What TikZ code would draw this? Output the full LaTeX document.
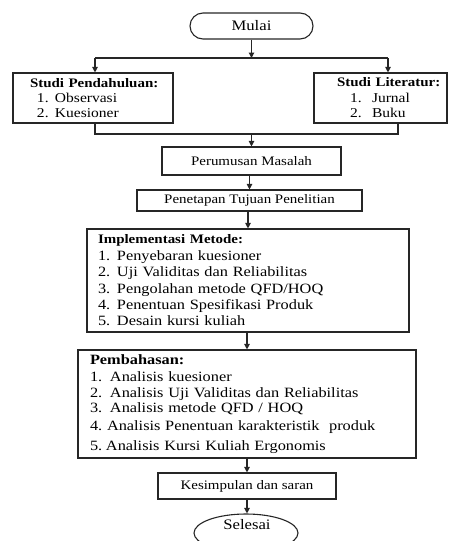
\documentclass[tikz,border=0pt]{standalone}
\usepackage{fontspec}
\setmainfont{Liberation Serif}[FakeStretch=1.15]
\usetikzlibrary{arrows.meta,shapes.geometric}
\begin{document}
\begin{tikzpicture}[x=1pt,y=-1pt,
  box/.style={draw=black!85, line width=1.1pt, rectangle, inner sep=0pt, align=center},
  ln/.style={draw=black!85, line width=1.1pt},
  arr/.style={draw=black!85, line width=1.1pt, -{Triangle[width=5.5pt,length=5.5pt]}},
  ttl/.style={font=\fontsize{13}{15}\selectfont}]
\useasboundingbox (0,0) rectangle (448,541);

\node[box, rounded corners=13pt, minimum width=123pt, minimum height=26pt,
      font=\fontsize{14.5}{16}\selectfont] (mulai) at (251.5,26) {Mulai};

\node[box, minimum height=50pt, text width=160pt, align=left,
      font=\fontsize{13.5}{15}\selectfont] (sp) at (93,98)
  {\hspace*{17pt}{\bfseries\fontsize{13}{15}\selectfont Studi Pendahuluan:}\\
   \hspace*{24pt}\makebox[18pt][l]{1.}Observasi\\
   \hspace*{24pt}\makebox[18pt][l]{2.}Kuesioner};

\node[box, minimum height=50pt, text width=133pt, align=left,
      font=\fontsize{13.5}{15.5}\selectfont] (sl) at (380.5,98)
  {\hspace*{23pt}{\bfseries\fontsize{13}{15}\selectfont Studi Literatur:}\\
   \hspace*{36pt}\makebox[22pt][l]{1.}Jurnal\\
   \hspace*{36pt}\makebox[22pt][l]{2.}Buku};

\node[box, ttl, minimum width=179pt, minimum height=28pt] (pm) at (251.5,161) {Perumusan Masalah};
\node[box, ttl, minimum width=225pt, minimum height=21pt] (pt) at (249.5,200.5) {Penetapan Tujuan Penelitian};

\node[box, minimum height=103pt, text width=322pt, align=left,
      font=\fontsize{14.2}{16.4}\selectfont] (im) at (248,280.5)
  {\hspace*{11pt}{\bfseries\fontsize{13}{16.4}\selectfont Implementasi Metode:}\\
   \hspace*{11pt}\makebox[19pt][l]{1.}Penyebaran kuesioner\\
   \hspace*{11pt}\makebox[19pt][l]{2.}Uji Validitas dan Reliabilitas\\
   \hspace*{11pt}\makebox[19pt][l]{3.}Pengolahan metode QFD/HOQ\\
   \hspace*{11pt}\makebox[19pt][l]{4.}Penentuan Spesifikasi Produk\\
   \hspace*{11pt}\makebox[19pt][l]{5.}Desain kursi kuliah};

\node[box, minimum height=108pt, text width=338pt, align=left,
      font=\fontsize{14.2}{16}\selectfont] (pb) at (247,404)
  {\hspace*{12pt}{\bfseries Pembahasan:}\\[1pt]
   \hspace*{12pt}\makebox[20pt][l]{1.}Analisis kuesioner\\
   \hspace*{12pt}\makebox[20pt][l]{2.}Analisis Uji Validitas dan Reliabilitas\\[-1pt]
   \hspace*{12pt}\makebox[20pt][l]{3.}Analisis metode QFD / HOQ\\[2pt]
   \hspace*{12pt}\makebox[17pt][l]{4.}Analisis Penentuan karakteristik\ \ produk\\[4pt]
   \hspace*{12pt}\makebox[16pt][l]{5.}Analisis Kursi Kuliah Ergonomis};

\node[box, ttl, minimum width=178pt, minimum height=26pt] (ks) at (247,486) {Kesimpulan dan saran};

\node[draw=black!85, line width=1.1pt, ellipse, inner sep=0pt,
      minimum width=104pt, minimum height=38pt] (sel) at (246,533) {};
\node[font=\fontsize{14.5}{16}\selectfont, inner sep=0pt] (seltext) at (247,525) {Selesai};

\coordinate (j1) at (251.5,58);
\coordinate (jl) at (95,58);
\coordinate (jr) at (388,58);
\coordinate (bl) at (95,134);
\coordinate (br) at (398,134);

\draw[arr] (mulai.south) -- (j1);
\draw[ln] (jl) -- (jr);
\draw[arr] (jl) -- (jl |- sp.north);
\draw[arr] (jr) -- (jr |- sl.north);
\draw[ln] (bl |- sp.south) -- (bl) -- (br) -- (br |- sl.south);
\draw[arr] (pm.north |- bl) -- (pm.north);
\draw[arr] (pt.north |- pm.south) -- (pt.north);
\draw[arr] (im.north |- pt.south) -- (im.north);
\draw[arr] (pb.north |- im.south) -- (pb.north);
\draw[arr] (ks.north |- pb.south) -- (ks.north);
\draw[arr] (ks.south) -- (ks.south |- sel.north);
\end{tikzpicture}
\end{document}
